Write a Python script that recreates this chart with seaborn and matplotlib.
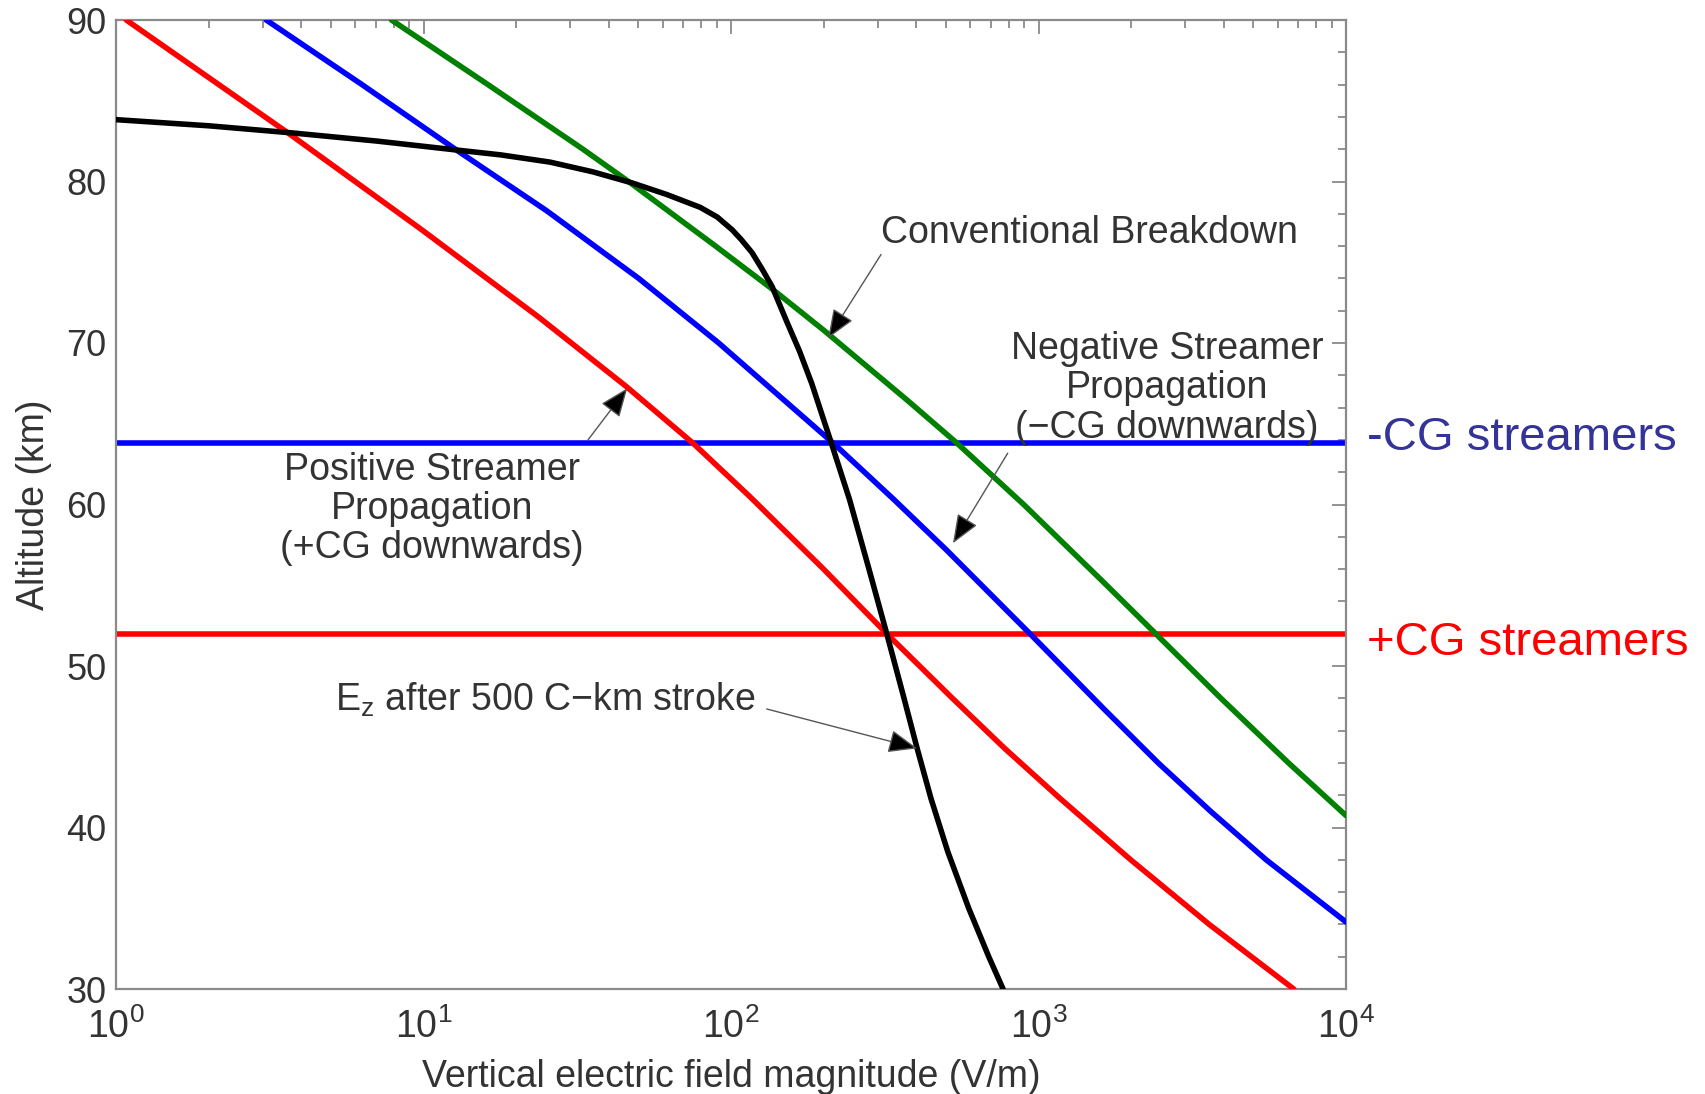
import numpy as np
import pandas as pd
import matplotlib
matplotlib.use("Agg")
import matplotlib.pyplot as plt
from matplotlib.ticker import MultipleLocator, LogLocator
import seaborn as sns

# ---------------- data ----------------
# Positive streamer propagation threshold (+CG downwards)  [red]
ALT_POS = [90.0, 83.0, 77.0, 71.6, 67.3, 63.8, 60.5, 56.0, 52.0, 48.0, 44.9, 41.8, 38.0, 34.0, 30.0]
E_POS = [1.08, 3.63, 9.89, 23.7, 45.7, 75.2, 115, 200, 321, 525, 776, 1175, 1995, 3590, 6760]

# Negative streamer propagation threshold (-CG downwards)  [blue]
ALT_NEG = [90.0, 86.0, 81.95, 78.2, 74.0, 70.0, 66.5, 63.8, 60.3, 57.2, 52.0, 47.3, 44.0, 41.0, 38.0, 34.15]
E_NEG = [3.08, 6.31, 12.8, 25.1, 50.1, 91.2, 148, 215, 339, 501, 938, 1640, 2450, 3630, 5500, 10000]

# Conventional breakdown  [green]
ALT_CB = [90.0, 86.0, 82.0, 79.9, 76.0, 73.3, 70.8, 66.5, 63.8, 60.0, 55.2, 52.0, 48.0, 44.0, 40.74]
E_CB = [7.87, 16.2, 33.0, 47.2, 89.1, 137, 200, 372, 543, 895, 1625, 2405, 3920, 6500, 10000]

# Ez after 500 C-km stroke  [black]
ALT_EZ = [83.83, 83.45, 83.0, 82.5, 81.95, 81.65, 81.2, 80.6, 79.9, 79.2, 78.4, 77.8, 77.0,
          76.4, 75.6, 74.6, 73.5, 71.3, 69.5, 67.5, 63.8, 60.3, 56.0, 52.0, 48.2, 44.9, 41.8,
          38.5, 35.0, 32.0, 30.0]
E_EZ = [1.0, 2.0, 3.78, 7.08, 12.8, 17.8, 25.8, 35.5, 47.9, 61.7, 79.4, 90.2, 101,
        108, 117, 126, 136, 152, 167, 183, 212, 243, 281, 321, 363, 403, 447,
        507, 593, 689, 767]

# Streamer altitude markers
CG_NEG_ALT = 63.8
CG_POS_ALT = 52.0

X_TICKS = [1, 10, 100, 1000, 10000]
Y_TICKS = [30, 40, 50, 60, 70, 80, 90]

# ---------------- style ----------------
sns.set_style("white")
plt.rcParams["font.family"] = ["Liberation Sans", "DejaVu Sans"]
plt.rcParams["mathtext.fontset"] = "custom"
plt.rcParams["mathtext.rm"] = "Liberation Sans"
plt.rcParams["mathtext.it"] = "Liberation Sans"
plt.rcParams["mathtext.bf"] = "Liberation Sans:bold"

TXT = "#333333"
AX_GRAY = "#8a8a8a"
LW = 4.0

fig = plt.figure(figsize=(17.05, 10.94), dpi=100)
ax = fig.add_axes([116 / 1705, 1 - 989 / 1094, 1230 / 1705, 969 / 1094])

curves = [
    (E_POS, ALT_POS, "#ff0000"),
    (E_NEG, ALT_NEG, "#0000ff"),
    (E_CB, ALT_CB, "#008000"),
    (E_EZ, ALT_EZ, "#000000"),
]
for ex, alt, col in curves:
    df = pd.DataFrame({"E": ex, "alt": alt})
    sns.lineplot(data=df, x="E", y="alt", sort=False, estimator=None,
                 color=col, linewidth=LW, ax=ax, zorder=3)
    ax.lines[-1].set_solid_joinstyle("round")

ax.axhline(CG_NEG_ALT, color="#0000ff", linewidth=LW, zorder=2)
ax.axhline(CG_POS_ALT, color="#ff0000", linewidth=LW, zorder=2)

ax.set_xscale("log")
ax.set_xlim(1, 1e4)
ax.set_ylim(30, 90)
ax.set_xticks(X_TICKS)
ax.set_yticks(Y_TICKS)
ax.xaxis.set_minor_locator(LogLocator(base=10, subs=np.arange(2, 10)))
ax.yaxis.set_minor_locator(MultipleLocator(2))

for s in ax.spines.values():
    s.set_color(AX_GRAY)
    s.set_linewidth(1.6)
    s.set_visible(True)

ax.tick_params(which="both", direction="in", top=True, right=True,
               color=AX_GRAY, width=1.3, labelcolor=TXT)
ax.tick_params(which="major", length=10, labelsize=26)
ax.tick_params(which="minor", length=5.5)
ax.tick_params(axis="y", which="major", pad=7)
ax.tick_params(axis="x", which="major", pad=14, labelsize=27)

ax.set_xlabel("Vertical electric field magnitude (V/m)", fontsize=27, color=TXT, labelpad=9)
ax.set_ylabel("Altitude (km)", fontsize=27, color=TXT)
ax.yaxis.set_label_coords(-0.052, 0.5)

# ---------------- annotations ----------------
ann_font = dict(fontsize=27, color=TXT)
arrow = dict(arrowstyle="-|>,head_length=0.9,head_width=0.36", fc="black", ec="#555555",
             lw=1.0, mutation_scale=20, shrinkA=0, shrinkB=0)

ax.text(0.622, 0.780, "Conventional Breakdown", transform=ax.transAxes,
        ha="left", va="center", **ann_font)
ax.annotate("", xy=(207, 70.3), xycoords="data", xytext=(0.622, 0.758),
            textcoords="axes fraction", arrowprops=arrow, zorder=5)

ax.text(0.8545, 0.620, "Negative Streamer\nPropagation\n(\u2212CG downwards)",
        transform=ax.transAxes, ha="center", va="center", linespacing=1.12, **ann_font)
ax.annotate("", xy=(527, 57.6), xycoords="data", xytext=(0.725, 0.553),
            textcoords="axes fraction", arrowprops=arrow, zorder=5)

ax.text(0.257, 0.4954, "Positive Streamer\nPropagation\n(+CG downwards)",
        transform=ax.transAxes, ha="center", va="center", linespacing=1.12, **ann_font)
ax.annotate("", xy=(46.0, 67.2), xycoords="data", xytext=(0.3837, 0.5666),
            textcoords="axes fraction", arrowprops=arrow, zorder=5)

ax.text(0.178, 0.2982, "E$_{\\mathrm{z}}$ after 500 C\u2212km stroke",
        transform=ax.transAxes, ha="left", va="center", **ann_font)
ax.annotate("", xy=(403, 44.9), xycoords="data", xytext=(0.529, 0.289),
            textcoords="axes fraction", arrowprops=arrow, zorder=5)

# right-hand labels
fig.text(1367 / 1705, 1 - 438 / 1094, "-CG streamers", fontsize=34, color="#333399",
         ha="left", va="center")
fig.text(1367 / 1705, 1 - 643 / 1094, "+CG streamers", fontsize=34, color="#ff0000",
         ha="left", va="center")

fig.savefig("out.png", dpi=100)
